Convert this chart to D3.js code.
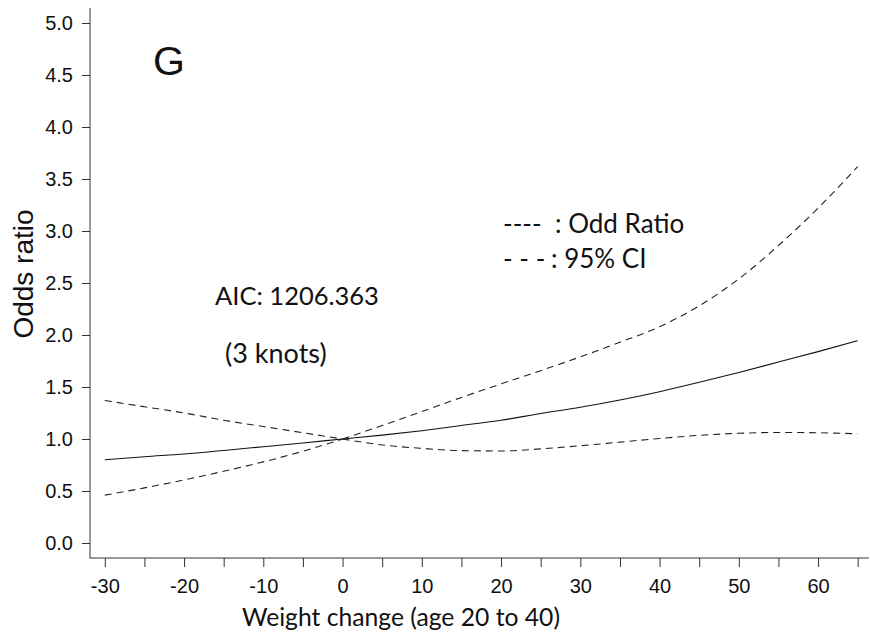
<!DOCTYPE html>
<html>
<head>
<meta charset="utf-8">
<script src="https://cdn.jsdelivr.net/npm/d3@7/dist/d3.min.js"></script>
<style>
body { margin: 0; background: #fff; }
.axis text { font-family: "Liberation Sans", Arial, sans-serif; font-size: 20px; fill: #111; }
.axis line, .axis path { stroke: #333; }
</style>
</head>
<body>
<script>
// weight change values (x) and the spline estimates
var weight    = [-30, -25, -20, -15, -10, -5, 0, 5, 10, 15, 20, 25, 30, 35, 40, 45, 50, 55, 60, 65];
var oddsRatio = [0.80, 0.83, 0.856, 0.89, 0.926, 0.962, 1.0, 1.037, 1.08, 1.13, 1.18, 1.245, 1.305, 1.375, 1.455, 1.545, 1.64, 1.74, 1.84, 1.945];
var ciUpper   = [1.37, 1.31, 1.25, 1.18, 1.12, 1.06, 1.0, 1.13, 1.264, 1.40, 1.53, 1.657, 1.79, 1.93, 2.08, 2.28, 2.54, 2.86, 3.22, 3.62];
var ciLower   = [0.46, 0.53, 0.606, 0.69, 0.78, 0.882, 1.0, 0.943, 0.91, 0.888, 0.885, 0.905, 0.935, 0.97, 1.005, 1.035, 1.055, 1.063, 1.06, 1.05];

var xTickValues  = [-30, -25, -20, -15, -10, -5, 0, 5, 10, 15, 20, 25, 30, 35, 40, 45, 50, 55, 60, 65];
var xLabelValues = [-30, -20, -10, 0, 10, 20, 30, 40, 50, 60];
var yTickValues  = [0, 0.5, 1, 1.5, 2, 2.5, 3, 3.5, 4, 4.5, 5];
var xAxisExtent  = [-31.9, 66.4];
var yAxisExtent  = [-0.145, 5.145];

var panelLetter = "G";
var xTitle = "Weight change (age 20 to 40)";
var yTitle = "Odds ratio";
var legendLines = [["----", ": Odd Ratio"], ["- - -", ": 95% CI"]];
var notes = ["AIC: 1206.363", "(3 knots)"];

var svg = d3.select("body").append("svg")
	.attr("width", 870)
	.attr("height", 637);

var x = d3.scaleLinear().domain([-30, 65]).range([104.8, 857.7]);
var y = d3.scaleLinear().domain([0, 5]).range([543, 23]);

// y axis
var gy = svg.append("g")
	.attr("class", "axis")
	.attr("transform", "translate(90,0)")
	.call(d3.axisLeft(y)
		.tickValues(yTickValues)
		.tickFormat(d3.format(".1f"))
		.tickSize(8)
		.tickPadding(9));
gy.select(".domain").remove();
gy.append("line")
	.attr("x1", 0).attr("x2", 0)
	.attr("y1", y(yAxisExtent[1])).attr("y2", y(yAxisExtent[0]))
	.attr("stroke", "#333");

// x axis
var gx = svg.append("g")
	.attr("class", "axis")
	.attr("transform", "translate(0,558)")
	.call(d3.axisBottom(x)
		.tickValues(xTickValues)
		.tickFormat(function (d) { return xLabelValues.indexOf(d) >= 0 ? d : ""; })
		.tickSize(9)
		.tickPadding(12));
gx.select(".domain").remove();
gx.append("line")
	.attr("x1", x(xAxisExtent[0])).attr("x2", x(xAxisExtent[1]))
	.attr("y1", 0).attr("y2", 0)
	.attr("stroke", "#333");

// titles
svg.append("text")
	.attr("transform", "translate(33,274) rotate(-90)")
	.attr("text-anchor", "middle")
	.style("font-family", "'Liberation Sans', Arial, sans-serif")
	.style("font-size", "28px")
	.attr("fill", "#111")
	.text(yTitle);

svg.append("text")
	.attr("x", 401).attr("y", 626)
	.attr("text-anchor", "middle")
	.style("font-family", "Lato, sans-serif")
	.style("font-size", "24.7px")
	.attr("fill", "#111")
	.text(xTitle);

svg.append("text")
	.attr("x", 153).attr("y", 75)
	.style("font-family", "'Liberation Sans', Arial, sans-serif")
	.style("font-size", "41px")
	.attr("fill", "#111")
	.text(panelLetter);

// lines: CI curves have a sharp crossing at 0, so draw each side separately
function rows(vals) {
	return weight.map(function (w, i) { return { w: w, v: vals[i] }; });
}
var line = d3.line()
	.x(function (d) { return x(d.w); })
	.y(function (d) { return y(d.v); })
	.curve(d3.curveMonotoneX);

svg.append("path")
	.datum(rows(oddsRatio))
	.attr("d", line)
	.attr("fill", "none")
	.attr("stroke", "#111")
	.attr("stroke-width", 1.1);

[ciUpper, ciLower].forEach(function (vals) {
	var r = rows(vals);
	[r.filter(function (d) { return d.w <= 0; }), r.filter(function (d) { return d.w >= 0; })]
		.forEach(function (part) {
			svg.append("path")
				.datum(part)
				.attr("d", line)
				.attr("fill", "none")
				.attr("stroke", "#222")
				.attr("stroke-width", 1.1)
				.attr("stroke-dasharray", "7,5");
		});
});

// legend
var legend = svg.append("g")
	.style("font-family", "Lato, sans-serif")
	.style("font-size", "26px")
	.attr("fill", "#111");
legend.selectAll("text.dash")
	.data(legendLines)
	.enter().append("text")
	.attr("x", 503)
	.attr("y", function (d, i) { return 233 + i * 35; })
	.text(function (d) { return d[0]; });
legend.selectAll("text.lab")
	.data(legendLines)
	.enter().append("text")
	.attr("x", function (d, i) { return i === 0 ? 555 : 551; })
	.attr("y", function (d, i) { return 233 + i * 35; })
	.text(function (d) { return d[1]; });

// notes
svg.selectAll("text.note")
	.data(notes)
	.enter().append("text")
	.attr("x", function (d, i) { return i === 0 ? 215 : 225; })
	.attr("y", function (d, i) { return i === 0 ? 305 : 363; })
	.style("font-family", "Lato, sans-serif")
	.style("font-size", function (d, i) { return i === 0 ? "25.5px" : "27px"; })
	.attr("fill", "#111")
	.text(function (d) { return d; });
</script>
</body>
</html>
